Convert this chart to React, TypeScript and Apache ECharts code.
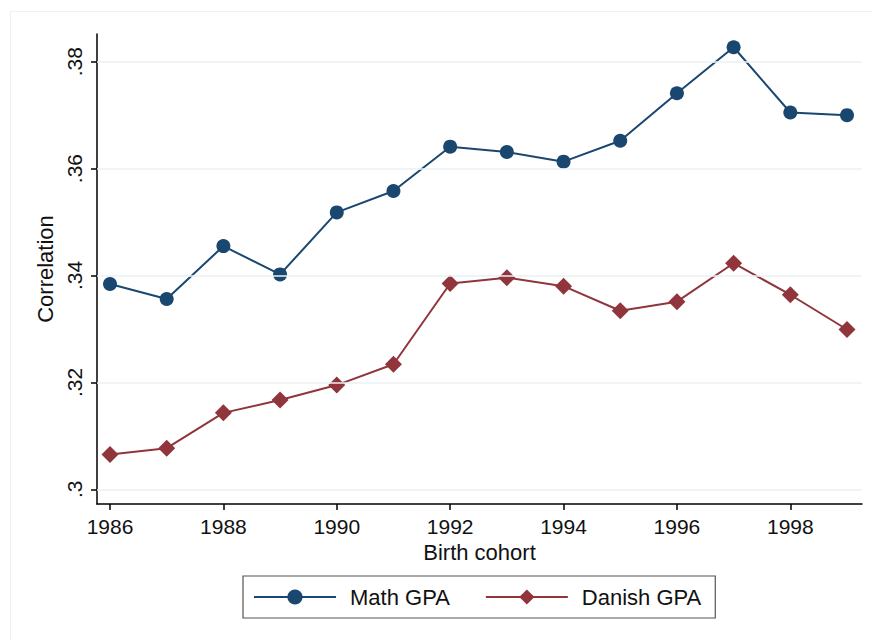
import React, { useEffect, useRef } from "react";
import * as echarts from "echarts";

const years = [1986, 1987, 1988, 1989, 1990, 1991, 1992, 1993, 1994, 1995, 1996, 1997, 1998, 1999];
const mathGPA = [0.3384, 0.3356, 0.3455, 0.3402, 0.3518, 0.3558, 0.3641, 0.3631, 0.3613, 0.3652, 0.3741, 0.3827, 0.3705, 0.3700];
const danishGPA = [0.3065, 0.3077, 0.3143, 0.3167, 0.3195, 0.3234, 0.3385, 0.3396, 0.3380, 0.3334, 0.3351, 0.3423, 0.3364, 0.3299];
const xTicks = [1986, 1988, 1990, 1992, 1994, 1996, 1998];
const yTicks = [0.30, 0.32, 0.34, 0.36, 0.38];
const seriesNames = ["Math GPA", "Danish GPA"];

const FONT = "'Liberation Sans', Arial, sans-serif";

export default function App() {
  const ref = useRef<HTMLDivElement>(null);
  useEffect(() => {
    document.body.style.margin = "0";
    const chart = echarts.init(ref.current!, null, { renderer: "svg" });
    const fmtY = (v: number) => String(+v.toFixed(2)).replace(/^0/, "");
    chart.setOption({
      animation: false,
      backgroundColor: "#ffffff",
      textStyle: { fontFamily: FONT },
      grid: { left: 97, top: 34, width: 765, height: 470, containLabel: false },
      xAxis: {
        type: "value",
        min: 1985.7707,
        max: 1999.2646,
        name: "Birth cohort",
        nameLocation: "middle",
        nameGap: 36,
        nameTextStyle: { fontSize: 22, color: "#111", fontFamily: FONT },
        axisLine: { show: true, onZero: false, lineStyle: { color: "#000", width: 1.5 } },
        axisTick: { show: true, length: 6, customValues: xTicks, lineStyle: { color: "#000", width: 1.5 } },
        axisLabel: {
          show: true,
          customValues: xTicks,
          fontSize: 21,
          color: "#111",
          margin: 12,
          fontFamily: FONT,
          formatter: (v: number) => String(Math.round(v)),
        },
        splitLine: { show: false },
      },
      yAxis: {
        type: "value",
        min: 0.29725,
        max: 0.385182,
        name: "Correlation",
        nameLocation: "middle",
        nameRotate: 90,
        nameGap: 38,
        nameTextStyle: { fontSize: 22, color: "#111", fontFamily: FONT },
        axisLine: { show: true, onZero: false, lineStyle: { color: "#000", width: 1.5 } },
        axisTick: { show: true, length: 6, customValues: yTicks, lineStyle: { color: "#000", width: 1.5 } },
        axisLabel: {
          show: true,
          customValues: yTicks,
          rotate: 90,
          fontSize: 21,
          color: "#111",
          margin: 12,
          fontFamily: FONT,
          formatter: (v: number) => fmtY(v),
        },
        splitLine: { show: false },
      },
      legend: {
        data: seriesNames,
        left: 243,
        top: 576,
        orient: "horizontal",
        borderColor: "#555",
        borderWidth: 1.2,
        padding: [10, 14, 10, 10],
        itemWidth: 82,
        itemHeight: 19,
        itemGap: 35,
        textStyle: { fontSize: 22, color: "#111", fontFamily: FONT, padding: [0, 0, 0, 9] },
      },
      series: [
        {
          name: "grid",
          type: "line",
          data: [],
          z: 1,
          silent: true,
          markLine: {
            silent: true,
            symbol: ["none", "none"],
            label: { show: false },
            lineStyle: { color: "#eaf2f3", width: 1.5, type: "solid" },
            data: yTicks.map((v) => ({ yAxis: v })),
          },
        },
        {
          name: seriesNames[0],
          type: "line",
          z: 3,
          data: years.map((y, i) => [y, mathGPA[i]]),
          symbol: "circle",
          symbolSize: 14,
          lineStyle: { color: "#1a476f", width: 2 },
          itemStyle: { color: "#1a476f" },
        },
        {
          name: seriesNames[1],
          type: "line",
          z: 3,
          data: years.map((y, i) => [y, danishGPA[i]]),
          symbol: "diamond",
          symbolSize: 17,
          lineStyle: { color: "#90353b", width: 2 },
          itemStyle: { color: "#90353b" },
        },
      ],
      graphic: [
        { type: "line", shape: { x1: 10.5, y1: 11, x2: 10.5, y2: 640 }, style: { stroke: "#f0f0f0", lineWidth: 1 }, silent: true },
        { type: "line", shape: { x1: 10, y1: 11.5, x2: 872, y2: 11.5 }, style: { stroke: "#f0f0f0", lineWidth: 1 }, silent: true },
      ],
    });
    return () => chart.dispose();
  }, []);
  return <div ref={ref} style={{ position: "fixed", left: 0, top: 0, width: 872, height: 640 }} />;
}
